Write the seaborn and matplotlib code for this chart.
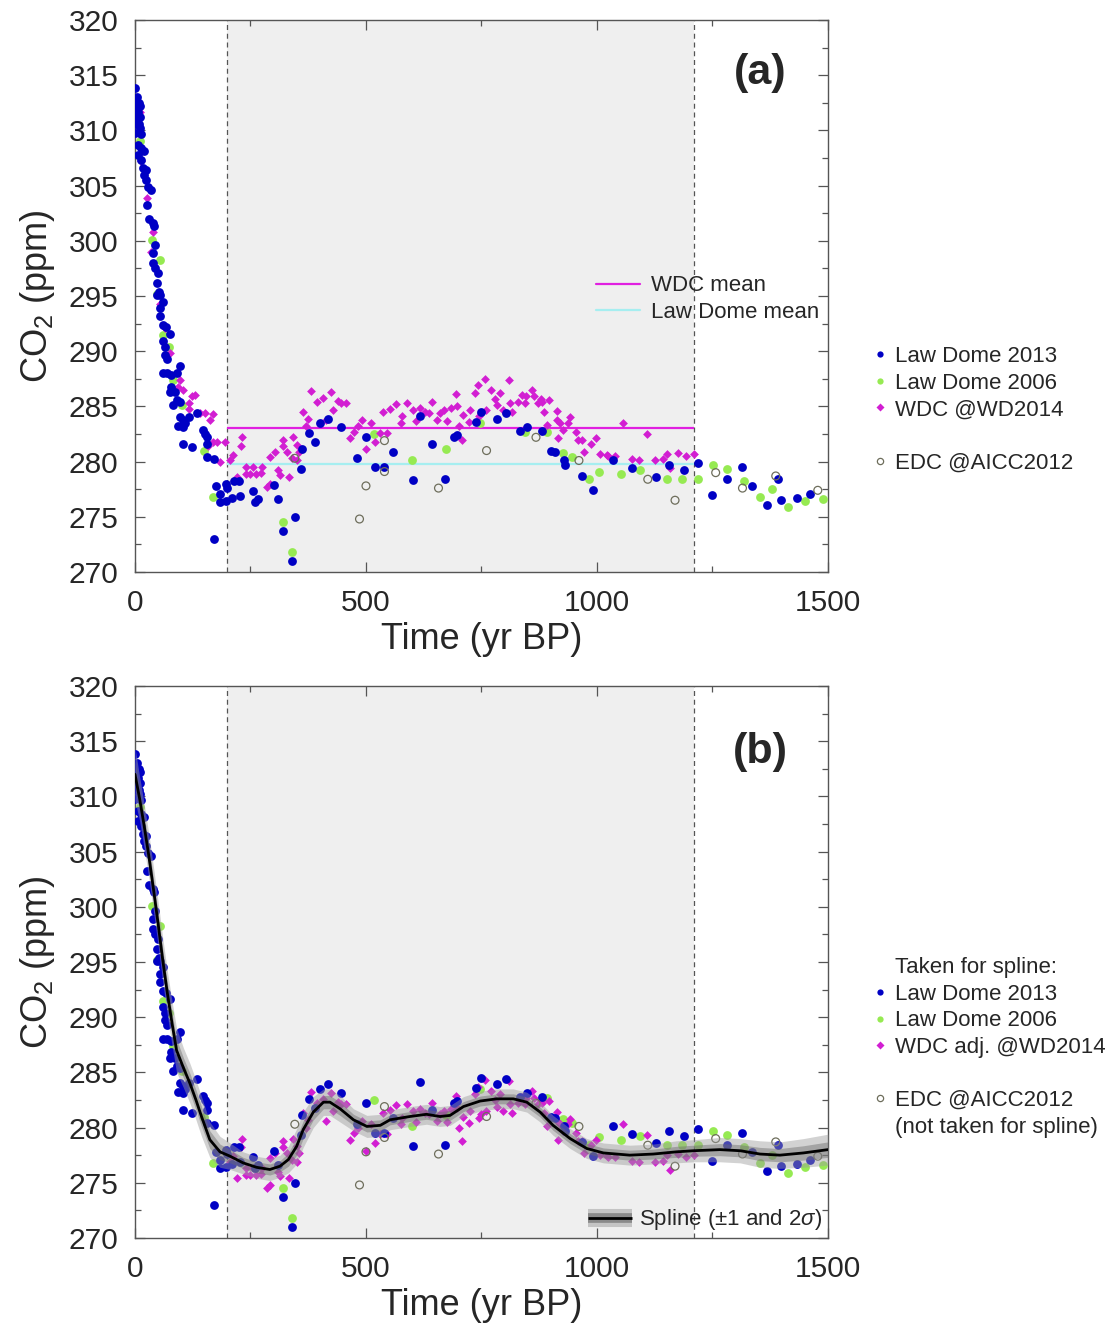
import numpy as np
import pandas as pd
import matplotlib
matplotlib.use("Agg")
import matplotlib.pyplot as plt
from matplotlib.lines import Line2D
from matplotlib.legend_handler import HandlerTuple
from matplotlib.ticker import MultipleLocator
import seaborn as sns

# ---------------------------------------------------------------- data
# (age in yr BP, CO2 in ppm)
LAW_DOME_2013 = [
    (1, 313.8), (1, 312.9), (5, 313.0), (9, 312.5), (2, 312.2), (11, 312.2), (7, 311.7),
    (1, 311.6), (4, 311.2), (11, 311.2), (2, 310.6), (9, 310.6), (1, 309.8), (11, 310.2),
    (14, 309.7), (7, 308.7), (14, 308.4), (20, 308.1), (7, 307.8), (14, 307.3), (18, 306.6),
    (24, 306.4), (20, 306.0), (24, 305.5), (29, 304.9), (34, 304.6), (27, 303.2), (31, 302.0),
    (38, 301.6), (41, 301.3), (43, 299.6), (40, 298.9), (38, 298.0), (43, 297.5), (50, 297.1),
    (47, 296.2), (53, 295.4), (55, 295.1), (61, 294.5), (55, 293.9), (48, 295.1), (55, 293.2),
    (61, 292.4), (67, 292.2), (76, 291.6), (60, 290.9), (65, 290.4), (65, 289.7), (70, 289.3),
    (97, 288.7), (61, 288.0), (70, 288.0), (79, 287.8), (90, 288.0), (79, 286.8), (76, 286.3),
    (87, 286.3), (90, 285.6), (97, 285.4), (83, 285.1), (134, 284.4), (97, 284.0), (105, 283.8),
    (116, 284.0), (108, 283.5), (94, 283.2), (103, 283.1), (148, 282.9), (152, 282.5),
    (155, 282.2), (155, 281.6), (105, 281.6), (123, 281.3), (155, 280.4), (170, 280.2),
    (175, 277.8), (185, 277.1), (197, 278.0), (200, 277.6), (185, 276.3), (197, 276.4),
    (209, 276.7), (215, 278.2), (226, 278.2), (227, 276.9), (255, 277.3), (260, 276.3),
    (267, 276.6), (301, 277.9), (310, 276.6), (170, 273.0), (346, 275.0), (321, 273.7),
    (340, 271.0), (361, 281.1), (359, 279.3), (377, 282.6), (390, 281.8), (400, 283.5),
    (418, 283.9), (447, 283.1), (480, 280.3), (500, 282.2), (520, 279.5), (538, 279.5),
    (559, 280.9), (601, 278.3), (618, 284.1), (642, 281.6), (671, 278.4), (690, 282.2),
    (698, 282.4), (738, 283.6), (750, 284.5), (783, 283.9), (803, 284.4), (833, 282.8),
    (849, 283.1), (880, 282.8), (900, 281.0), (909, 280.9), (929, 280.1), (931, 279.7),
    (967, 278.7), (992, 277.4), (1035, 280.1), (1075, 279.4), (1128, 278.6), (1157, 279.7),
    (1188, 279.2), (1219, 279.9), (1248, 277.0), (1281, 278.4), (1313, 279.5), (1335, 277.8),
    (1367, 276.1), (1392, 278.4), (1398, 276.5), (1432, 276.7), (1461, 277.1),
]

LAW_DOME_2006 = [
    (1, 312.8), (1, 311.0), (11, 309.0), (36, 300.1), (54, 298.3), (47, 295.2), (60, 291.5),
    (74, 290.4), (83, 287.4), (101, 285.1), (149, 281.0), (168, 276.8), (321, 274.5),
    (340, 271.8), (517, 282.5), (599, 280.1), (673, 281.1), (747, 283.5), (844, 282.7),
    (892, 282.7), (927, 280.8), (945, 280.4), (983, 278.4), (1005, 279.1), (1053, 278.9),
    (1093, 279.2), (1151, 278.4), (1185, 278.4), (1219, 278.4), (1252, 279.7), (1281, 279.3),
    (1318, 278.2), (1354, 276.8), (1378, 277.5), (1413, 275.9), (1450, 276.4), (1490, 276.6),
]

WDC_WD2014 = [
    (11, 311.7), (14, 307.2), (27, 303.9), (38, 300.8), (34, 299.0), (65, 292.1), (54, 294.3),
    (76, 289.8), (97, 287.4), (94, 286.8), (105, 286.5), (123, 285.9), (130, 286.0),
    (116, 285.3), (118, 284.8), (141, 284.4), (152, 284.4), (162, 283.8), (168, 284.3),
    (157, 281.4), (168, 281.8), (178, 281.8), (195, 281.8), (184, 280.0),
    (206, 280.1), (213, 280.6), (231, 282.2), (229, 281.4), (220, 278.6), (240, 279.5),
    (240, 278.9), (256, 279.5), (249, 278.9), (262, 278.9), (274, 279.5), (273, 279.0),
    (285, 277.7), (292, 278.0), (292, 280.4), (303, 280.9), (310, 279.2), (314, 278.8),
    (320, 282.0), (321, 281.4), (328, 280.9), (334, 278.6), (341, 282.2), (350, 281.5),
    (354, 280.9), (350, 280.1), (339, 280.3), (363, 284.5), (370, 283.2), (375, 283.9),
    (382, 286.4), (393, 285.4), (406, 285.8), (424, 286.3), (413, 283.8), (428, 284.7),
    (439, 285.5), (446, 285.3), (457, 285.3), (465, 282.1), (475, 282.7), (483, 283.2),
    (491, 283.8), (499, 281.1), (510, 283.5), (520, 281.8), (530, 282.6), (545, 282.6),
    (536, 284.5), (551, 284.8), (565, 285.2), (588, 285.3), (577, 284.1), (575, 283.5),
    (601, 284.7), (608, 283.7), (617, 284.9), (628, 284.5), (637, 284.4), (644, 285.4),
    (654, 283.8), (660, 284.4), (669, 284.7), (676, 283.7), (685, 284.9), (695, 286.1),
    (698, 285.0), (702, 283.2), (707, 282.0), (709, 284.2), (722, 283.6), (725, 284.7),
    (736, 286.2), (743, 286.9), (758, 287.5), (745, 284.1), (750, 284.4), (760, 284.7),
    (770, 286.5), (779, 285.7), (783, 285.1), (791, 286.2), (796, 284.7), (810, 287.4),
    (812, 285.3), (817, 284.5), (830, 285.4), (837, 286.0), (844, 285.3), (846, 285.9),
    (859, 286.5), (864, 285.9), (873, 285.3), (878, 285.7), (882, 285.4), (897, 285.6),
    (885, 284.5), (891, 283.3), (913, 284.6), (914, 283.8), (920, 283.5), (927, 282.9),
    (916, 282.1), (942, 284.0), (938, 283.5), (955, 282.7), (960, 282.0), (967, 282.0),
    (972, 280.9), (988, 281.6), (998, 282.1), (1006, 280.7), (1022, 280.6), (1024, 280.5),
    (1039, 280.5), (1057, 283.5), (1075, 280.2), (1092, 280.1), (1109, 282.5), (1125, 280.1),
    (1142, 280.2), (1152, 280.7), (1158, 279.4), (1176, 280.8), (1193, 280.5), (1210, 280.7),
]

EDC_AICC2012 = [
    (346, 280.3), (486, 274.8), (500, 277.8), (540, 281.9), (540, 279.1), (657, 277.6),
    (761, 281.0), (868, 282.2), (961, 280.1), (1110, 278.4), (1169, 276.5), (1257, 279.0),
    (1315, 277.6), (1387, 278.7), (1478, 277.4),
]

# smoothing spline through the Law Dome + adjusted WDC records
SPLINE_T = [0, 10, 20, 30, 40, 50, 60, 70, 80, 90,
            105, 119, 132, 144, 162, 184, 206,
            234, 263, 292, 314, 332,
            350, 364, 386, 408, 422, 444,
            473, 502, 531, 552, 595, 631, 660, 682, 711, 747, 783, 819, 848, 877,
            905, 942, 978, 1014, 1071, 1122, 1172, 1209, 1266, 1310, 1353, 1396, 1447, 1500]
SPLINE_CO2 = [312.0, 309.8, 307.3, 304.6, 301.6, 298.5, 295.2, 292.2, 289.5, 287.0,
              285.4, 284.0, 282.5, 281.0, 278.9, 277.8, 277.4,
              276.8, 276.4, 276.2, 276.5, 277.1,
              278.3, 279.8, 281.4, 282.3, 282.3, 281.7,
              280.7, 280.1, 280.2, 280.7, 281.0, 281.2, 281.0, 281.1, 281.9, 282.4, 282.6, 282.6,
              282.3, 281.4,
              280.2, 279.0, 278.1, 277.7, 277.5, 277.6, 277.8, 277.9, 278.0, 277.9, 277.6, 277.5,
              277.7, 278.0]
SPLINE_SIGMA = [1.2, 1.0, 1.0, 1.0, 1.0, 1.0, 1.0, 1.0, 1.0, 1.0,
                0.9, 0.9, 0.9, 0.9, 0.8, 0.7, 0.6,
                0.5, 0.5, 0.5, 0.5, 0.6,
                0.8, 0.8, 0.7, 0.6, 0.6, 0.6,
                0.5, 0.5, 0.5, 0.45, 0.45, 0.45, 0.45, 0.45, 0.45, 0.45, 0.45, 0.45, 0.45, 0.45,
                0.45, 0.45, 0.45, 0.45, 0.45, 0.45, 0.5, 0.5, 0.55, 0.55, 0.6, 0.6, 0.65, 0.7]

WINDOW = (200, 1210)        # interval used for the record means
WDC_MEAN = 283.0
LAW_DOME_MEAN = 279.8

# ---------------------------------------------------------------- style
sns.set_theme(style="ticks")
plt.rcParams["font.family"] = ["Liberation Sans", "DejaVu Sans"]
plt.rcParams["mathtext.fontset"] = "custom"
plt.rcParams["mathtext.rm"] = "Liberation Sans"
plt.rcParams["mathtext.it"] = "Liberation Sans:italic"
plt.rcParams["mathtext.bf"] = "Liberation Sans:bold"

BLUE = "#0000c4"
GREEN = "#96ea52"
MAGENTA = "#d21ed2"
EDC_EDGE = "#6e6e5c"
WDC_LINE = "#e020e0"
LD_LINE = "#a6eef0"
FRAME = "#555555"


def to_frame(pairs):
    arr = np.array(pairs, dtype=float)
    return pd.DataFrame({"age": arr[:, 0], "co2": arr[:, 1]})


ld13 = to_frame(LAW_DOME_2013)
ld06 = to_frame(LAW_DOME_2006)
wdc = to_frame(WDC_WD2014)
edc = to_frame(EDC_AICC2012)

# WDC shifted onto the Law Dome level inside the common interval
wdc_adj = wdc[wdc["age"] >= WINDOW[0]].copy()
wdc_adj["co2"] -= (WDC_MEAN - LAW_DOME_MEAN)


def style_axes(ax):
    ax.set_xlim(0, 1500)
    ax.set_ylim(270, 320)
    ax.axvspan(*WINDOW, color="#efefef", lw=0, zorder=0)
    for x in WINDOW:
        ax.axvline(x, color=FRAME, lw=0.9, ls=(0, (4, 3)), zorder=1)
    ax.xaxis.set_major_locator(MultipleLocator(500))
    ax.xaxis.set_minor_locator(MultipleLocator(250))
    ax.yaxis.set_major_locator(MultipleLocator(5))
    ax.yaxis.set_minor_locator(MultipleLocator(2.5))
    ax.tick_params(which="both", direction="in", top=True, right=True,
                   labelsize=21.5, pad=12, color=FRAME, width=0.9)
    ax.tick_params(which="major", length=7)
    ax.tick_params(which="minor", length=4)
    for sp in ax.spines.values():
        sp.set_color(FRAME)
        sp.set_linewidth(1.0)
    ax.set_xlabel("Time (yr BP)", fontsize=26, labelpad=4)
    ax.set_ylabel("CO$_2$ (ppm)", fontsize=26, labelpad=8)


def draw_points(ax, wdc_frame):
    sns.scatterplot(data=ld06, x="age", y="co2", ax=ax, color=GREEN, s=40,
                    linewidth=0, legend=False, zorder=3)
    sns.scatterplot(data=wdc_frame, x="age", y="co2", ax=ax, color=MAGENTA, marker="D",
                    s=20, linewidth=0, legend=False, zorder=3)
    sns.scatterplot(data=ld13, x="age", y="co2", ax=ax, color=BLUE, s=40,
                    linewidth=0, legend=False, zorder=3)
    sns.scatterplot(data=edc, x="age", y="co2", ax=ax, color="none", edgecolor=EDC_EDGE,
                    s=32, linewidth=0.9, legend=False, zorder=3)


def marker_handle(color, marker="o", size=4.5, hollow=False):
    if hollow:
        return Line2D([], [], ls="", marker=marker, markersize=size,
                      markerfacecolor="none", markeredgecolor=EDC_EDGE, markeredgewidth=0.9)
    return Line2D([], [], ls="", marker=marker, markersize=size,
                  markerfacecolor=color, markeredgecolor="none")


blank = Line2D([], [], ls="", marker="")

fig = plt.figure(figsize=(11.1, 13.25), dpi=100)
ax_a = fig.add_axes([0.1216, 0.5683, 0.6243, 0.4166])
ax_b = fig.add_axes([0.1216, 0.0657, 0.6243, 0.4166])

# ---------------------------------------------------------------- panel (a)
style_axes(ax_a)
ax_a.hlines(WDC_MEAN, *WINDOW, color=WDC_LINE, lw=1.6, zorder=2)
ax_a.hlines(LAW_DOME_MEAN, *WINDOW, color=LD_LINE, lw=1.6, zorder=2)
draw_points(ax_a, wdc)

leg_means = ax_a.legend(
    [Line2D([], [], color=WDC_LINE, lw=1.6), Line2D([], [], color=LD_LINE, lw=1.6)],
    ["WDC mean", "Law Dome mean"],
    loc="center left", bbox_to_anchor=(0.665, 0.494), frameon=False, fontsize=16,
    handlelength=2.0, handletextpad=0.5, labelspacing=0.26, borderpad=0, borderaxespad=0)
ax_a.add_artist(leg_means)

ax_a.legend(
    [marker_handle(BLUE), marker_handle(GREEN), marker_handle(MAGENTA, "D", 3.6), blank,
     marker_handle(None, hollow=True)],
    ["Law Dome 2013", "Law Dome 2006", "WDC @WD2014", "", "EDC @AICC2012"],
    loc="center left", bbox_to_anchor=(1.065, 0.294), frameon=False, fontsize=16,
    handlelength=0.6, handletextpad=0.4, labelspacing=0.25, borderpad=0, borderaxespad=0)

ax_a.text(0.902, 0.904, "(a)", transform=ax_a.transAxes, ha="center", va="center",
          fontsize=31, fontweight="bold")

# ---------------------------------------------------------------- panel (b)
style_axes(ax_b)
draw_points(ax_b, wdc_adj)

spl_t = np.array(SPLINE_T, dtype=float)
spl_v = np.array(SPLINE_CO2)
spl_s = np.array(SPLINE_SIGMA)
ax_b.fill_between(spl_t, spl_v - 2 * spl_s, spl_v + 2 * spl_s, color="#9c9c9c",
                  alpha=0.45, lw=0, zorder=4)
ax_b.fill_between(spl_t, spl_v - spl_s, spl_v + spl_s, color="#6c6c6c",
                  alpha=0.45, lw=0, zorder=4)
sns.lineplot(x=spl_t, y=spl_v, ax=ax_b, color="black", lw=2, sort=False,
             estimator=None, zorder=5)

leg_spline = ax_b.legend(
    [(Line2D([], [], color="#c4c4c4", lw=13, solid_capstyle="butt"),
      Line2D([], [], color="#8a8a8a", lw=7, solid_capstyle="butt"),
      Line2D([], [], color="black", lw=2, solid_capstyle="butt"))],
    ["Spline ($\\pm$1 and 2$\\sigma$)"],
    handler_map={tuple: HandlerTuple(ndivide=1, pad=0)},
    loc="lower right", bbox_to_anchor=(1.0, 0.0), frameon=False, fontsize=16,
    handlelength=2.0, handletextpad=0.3, borderpad=0, borderaxespad=0.25)
ax_b.add_artist(leg_spline)

ax_b.legend(
    [blank, marker_handle(BLUE), marker_handle(GREEN), marker_handle(MAGENTA, "D", 3.6),
     blank, marker_handle(None, hollow=True), blank],
    ["Taken for spline:", "Law Dome 2013", "Law Dome 2006", "WDC adj. @WD2014", "",
     "EDC @AICC2012", "(not taken for spline)"],
    loc="center left", bbox_to_anchor=(1.065, 0.345), frameon=False, fontsize=16,
    handlelength=0.6, handletextpad=0.4, labelspacing=0.25, borderpad=0, borderaxespad=0)

ax_b.text(0.902, 0.880, "(b)", transform=ax_b.transAxes, ha="center", va="center",
          fontsize=31, fontweight="bold")

fig.savefig("out.png", dpi=100)
